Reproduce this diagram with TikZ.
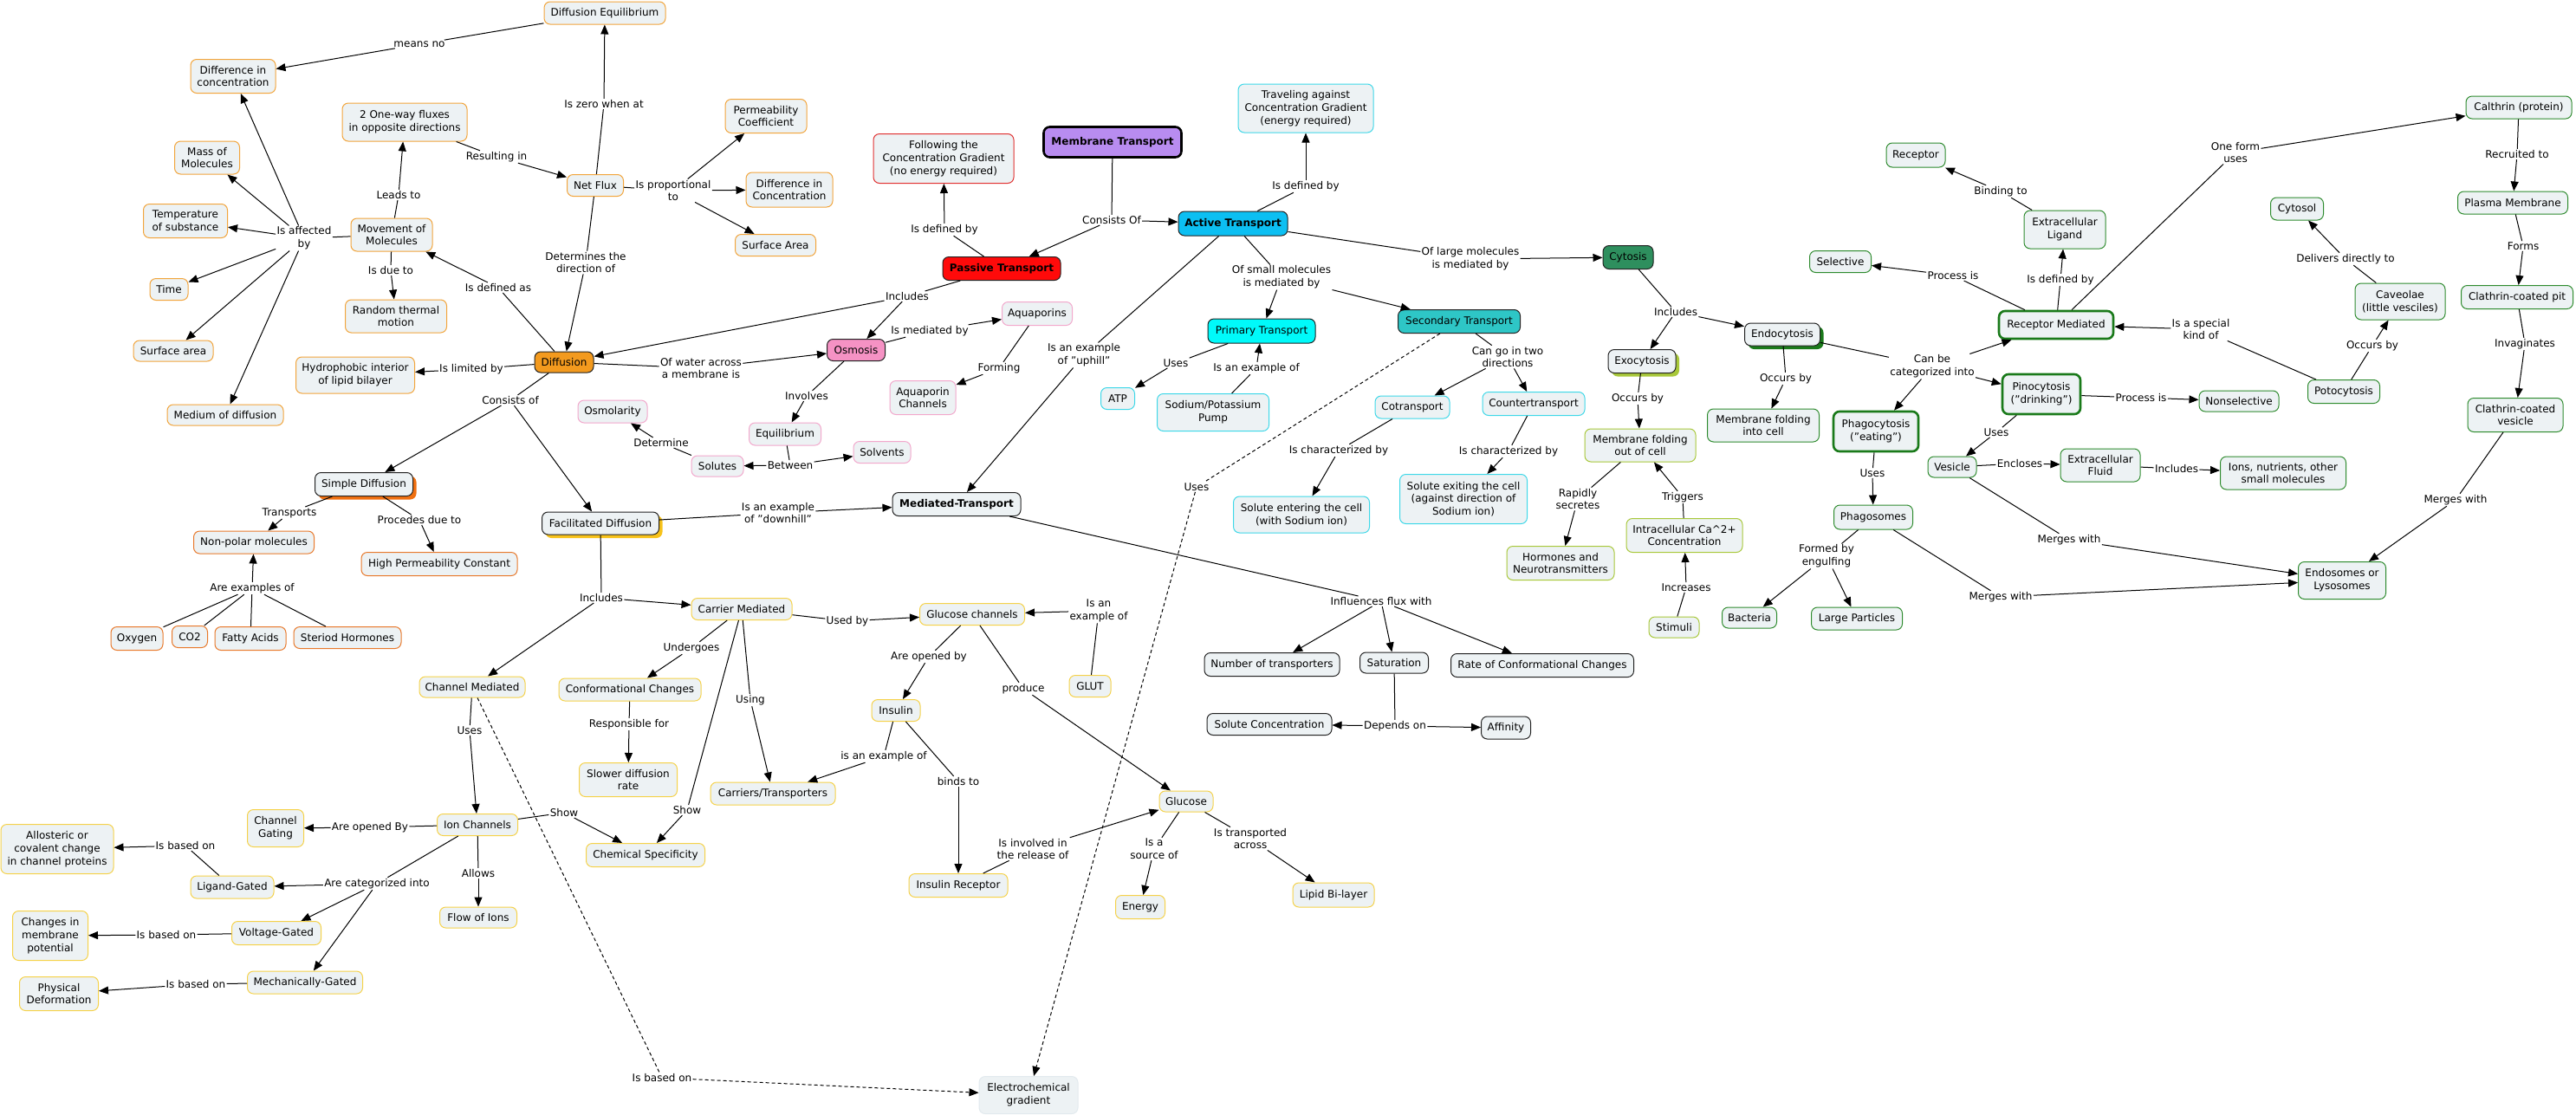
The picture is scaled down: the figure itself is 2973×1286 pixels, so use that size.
\documentclass[tikz,border=0pt]{standalone}
\usepackage{fontspec}
\setmainfont{DejaVu Sans}
\usetikzlibrary{arrows.meta,shadows}
\newcommand\fs{\fontsize{12}{14.7}\selectfont}
\definecolor{nf}{HTML}{EDF2F4}
\definecolor{orB}{HTML}{F2A53C}
\definecolor{or2B}{HTML}{E8792C}
\definecolor{yeB}{HTML}{F5D24A}
\definecolor{piB}{HTML}{F2A8CC}
\definecolor{cyB}{HTML}{3ED8E8}
\definecolor{grB}{HTML}{2E8B2E}
\definecolor{dgB}{HTML}{1A7A1A}
\definecolor{ygB}{HTML}{A8C83A}
\definecolor{rdB}{HTML}{E03030}
\definecolor{dkB}{HTML}{222222}
\definecolor{orF}{HTML}{F39A1E}
\definecolor{puF}{HTML}{B88CF0}
\definecolor{reF}{HTML}{FF0A0A}
\definecolor{blF}{HTML}{0CBFF2}
\definecolor{piF}{HTML}{F592C4}
\definecolor{cyF}{HTML}{00FAFA}
\definecolor{tqF}{HTML}{2EC6C6}
\definecolor{sgF}{HTML}{2E8F5E}
\definecolor{goS}{HTML}{F7C21A}
\definecolor{orS}{HTML}{F07010}
\definecolor{ecB}{HTML}{E2EAEE}
\tikzset{
  every node/.style={font=\fs, text=black},
  bx/.style={draw=#1, rounded corners=7pt, fill=nf, align=center, inner xsep=3pt, inner ysep=2pt, line width=1pt},
  sz/.style 2 args={minimum width=#1pt, minimum height=#2pt},
  tg/.style={bx=dgB, line width=2.6pt},
  lab/.style={align=center, inner sep=1.2pt},
  ln/.style={line width=1pt, draw=black},
  arr/.style={line width=1pt, draw=black, -{Triangle[length=11pt,width=9pt]}},
  dln/.style={ln, dash pattern=on 4pt off 3pt},
  darr/.style={arr, dash pattern=on 4pt off 3pt},
  shd/.style={drop shadow={shadow xshift=4pt, shadow yshift=-4pt, fill=#1, opacity=1}},
}
\begin{document}
\begin{tikzpicture}[x=1pt,y=-1pt]
\fill[white] (0,0) rectangle (2973,1286);
\useasboundingbox (0,0) rectangle (2973,1286);

% ---------- orange group ----------
\node[bx=orB, sz={140}{26}] (de) at (698,15) {Diffusion Equilibrium};
\node[bx=orB, sz={98}{39}] (diffconc) at (269,88) {Difference in\\concentration};
\node[bx=orB, sz={144}{44}] (fluxes) at (467,141) {2 One-way fluxes\\in opposite directions};
\node[bx=orB, sz={75}{38}] (mass) at (239,182) {Mass of\\Molecules};
\node[bx=orB, sz={97}{39}] (temp) at (214,255) {Temperature\\of substance};
\node[bx=orB, sz={65}{25}] (netflux) at (687,214) {Net Flux};
\node[bx=orB, sz={94}{38}] (movement) at (452,271) {Movement of\\Molecules};
\node[bx=orB, sz={44}{25}] (time) at (195,334) {Time};
\node[bx=orB, sz={117}{38}] (random) at (457,365) {Random thermal\\motion};
\node[bx=orB, sz={92}{24}] (surfarea) at (200,405) {Surface area};
\node[bx=orB, sz={137}{42}] (hydro) at (410,433) {Hydrophobic interior\\of lipid bilayer};
\node[bx=orB, sz={134}{24}] (medium) at (260,479) {Medium of diffusion};
\node[bx=orB, sz={94}{39}] (perm) at (884,134) {Permeability\\Coefficient};
\node[bx=orB, sz={100}{40}] (diffconc2) at (911,219) {Difference in\\Concentration};
\node[bx=orB, sz={93}{25}] (surfarea2) at (895,283) {Surface Area};
\node[bx=dkB, fill=orF, sz={68}{24}] (diffusion) at (651,418) {Diffusion};

% ---------- simple diffusion group ----------
\node[bx=dkB, shd=orS, sz={113}{27}] (simple) at (420,559) {Simple Diffusion};
\node[bx=dkB, shd=goS, sz={135}{26}] (facil) at (693,604) {Facilitated Diffusion};
\node[bx=or2B, sz={139}{26}] (nonpolar) at (293,626) {Non-polar molecules};
\node[bx=or2B, sz={180}{27}] (hpc) at (507,651) {High Permeability Constant};
\node[bx=or2B, sz={60}{27}] (oxygen) at (158,737) {Oxygen};
\node[bx=or2B, sz={41}{25}] (co2) at (219,735) {CO2};
\node[bx=or2B, sz={82}{27}] (fatty) at (289,737) {Fatty Acids};
\node[bx=or2B, sz={124}{25}] (steriod) at (401,736) {Steriod Hormones};

% ---------- yellow group ----------
\node[bx=yeB, sz={122}{24}] (channel) at (545,793) {Channel Mediated};
\node[bx=yeB, sz={116}{25}] (carrier) at (856,703) {Carrier Mediated};
\node[bx=yeB, sz={121}{25}] (glucch) at (1122,709) {Glucose channels};
\node[bx=yeB, sz={164}{26}] (conform) at (727,796) {Conformational Changes};
\node[bx=yeB, sz={48}{25}] (glut) at (1258,792) {GLUT};
\node[bx=yeB, sz={56}{25}] (insulin) at (1034,820) {Insulin};
\node[bx=yeB, sz={113}{39}] (slower) at (725,900) {Slower diffusion\\rate};
\node[bx=yeB, sz={65}{43}] (gating) at (318,956) {Channel\\Gating};
\node[bx=yeB, sz={93}{25}] (ionch) at (551,952) {Ion Channels};
\node[bx=yeB, sz={130}{57}] (allost) at (66,980) {Allosteric or\\covalent change\\in channel proteins};
\node[bx=yeB, sz={137}{27}] (chemspec) at (745,987) {Chemical Specificity};
\node[bx=yeB, sz={96}{26}] (ligand) at (268,1024) {Ligand-Gated};
\node[bx=yeB, sz={89}{24}] (flow) at (552,1059) {Flow of Ions};
\node[bx=yeB, sz={87}{57}] (changes) at (58,1080) {Changes in\\membrane\\potential};
\node[bx=yeB, sz={103}{27}] (voltage) at (319,1077) {Voltage-Gated};
\node[bx=yeB, sz={91}{39}] (physical) at (68,1147) {Physical\\Deformation};
\node[bx=yeB, sz={133}{26}] (mech) at (352,1134) {Mechanically-Gated};
\node[bx=yeB, sz={144}{26}] (carriers) at (892,916) {Carriers/Transporters};
\node[bx=yeB, sz={114}{27}] (insrec) at (1106,1022) {Insulin Receptor};
\node[bx=yeB, sz={62}{24}] (glucose) at (1369,925) {Glucose};
\node[bx=yeB, sz={57}{27}] (energy) at (1316,1047) {Energy};
\node[bx=yeB, sz={94}{28}] (lipid) at (1539,1033) {Lipid Bi-layer};
\node[bx=ecB, sz={114}{43}] (electro) at (1187,1264) {Electrochemical\\gradient};

% ---------- pink group ----------
\node[bx=dkB, fill=piF, sz={67}{25}] (osmosis) at (988,404) {Osmosis};
\node[bx=piB, sz={80}{26}] (osmolarity) at (707,475) {Osmolarity};
\node[bx=piB, sz={81}{27}] (aquaporins) at (1197,362) {Aquaporins};
\node[bx=piB, sz={76}{39}] (aquach) at (1065,459) {Aquaporin\\Channels};
\node[bx=piB, sz={83}{26}] (equil) at (906,501) {Equilibrium};
\node[bx=piB, sz={60}{24}] (solutes) at (828,538) {Solutes};
\node[bx=piB, sz={66}{25}] (solvents) at (1018,522) {Solvents};

% ---------- top ----------
\node[bx=rdB, sz={162}{57}] (following) at (1089,183) {Following the\\Concentration Gradient\\(no energy required)};
\node[bx=black, fill=puF, line width=2.6pt, sz={159}{35}, font=\fs\bfseries] (mt) at (1284,164) {Membrane Transport};
\node[bx=dkB, fill=reF, sz={136}{27}, font=\fs\bfseries] (passive) at (1156,310) {Passive Transport};
\node[bx=dkB, fill=blF, sz={126}{28}, font=\fs\bfseries] (active) at (1423,258) {Active Transport};

% ---------- cyan group ----------
\node[bx=cyB, sz={156}{56}] (traveling) at (1507,125) {Traveling against\\Concentration Gradient\\(energy required)};
\node[bx=dkB, fill=cyF, sz={124}{28}] (primary) at (1456,382) {Primary Transport};
\node[bx=dkB, fill=tqF, sz={141}{27}] (secondary) at (1684,371) {Secondary Transport};
\node[bx=cyB, sz={39}{25}] (atp) at (1290,460) {ATP};
\node[bx=cyB, sz={129}{43}] (pump) at (1400,476) {Sodium/Potassium\\Pump};
\node[bx=cyB, sz={157}{42}] (solin) at (1502,594) {Solute entering the cell\\(with Sodium ion)};
\node[bx=cyB, sz={86}{26}] (cotrans) at (1630,470) {Cotransport};
\node[bx=cyB, sz={118}{27}] (countertr) at (1770,466) {Countertransport};
\node[bx=cyB, sz={147}{57}] (solout) at (1689,576) {Solute exiting the cell\\(against direction of\\Sodium ion)};

% ---------- mediated transport group ----------
\node[bx=dkB, sz={148}{27}, font=\fs\bfseries] (mediated) at (1104,582) {Mediated-Transport};
\node[bx=dkB, sz={156}{27}] (numtrans) at (1468,767) {Number of transporters};
\node[bx=dkB, sz={79}{24}] (saturation) at (1609,765) {Saturation};
\node[bx=dkB, sz={211}{27}] (rate) at (1780,768) {Rate of Conformational Changes};
\node[bx=dkB, sz={144}{25}] (solconc) at (1465,836) {Solute Concentration};
\node[bx=dkB, sz={57}{26}] (affinity) at (1738,840) {Affinity};

% ---------- cytosis ----------
\node[bx=dkB, fill=sgF, sz={58}{27}] (cytosis) at (1879,297) {Cytosis};
\node[bx=dkB, shd=ygB, sz={78}{27}] (exocytosis) at (1895,417) {Exocytosis};
\node[bx=dkB, shd=dgB, sz={87}{26}] (endocytosis) at (2057,386) {Endocytosis};
\node[bx=ygB, sz={128}{38}] (mfo) at (1893,514) {Membrane folding\\out of cell};
\node[bx=ygB, sz={124}{39}] (hormones) at (1801,650) {Hormones and\\Neurotransmitters};
\node[bx=ygB, sz={134}{39}] (calcium) at (1944,618) {Intracellular Ca\textasciicircum 2+\\Concentration};
\node[bx=ygB, sz={58}{24}] (stimuli) at (1932,724) {Stimuli};

\node[bx=grB, sz={129}{38}] (mfi) at (2035,491) {Membrane folding\\into cell};
\node[bx=grB, sz={71}{25}] (selective) at (2124,302) {Selective};
\node[bx=grB, sz={68}{28}] (receptor) at (2211,179) {Receptor};
\node[bx=grB, sz={94}{44}] (extlig) at (2383,265) {Extracellular\\Ligand};
\node[bx=grB, sz={122}{26}] (calthrin) at (2907,124) {Calthrin (protein)};
\node[bx=grB, sz={61}{26}] (cytosol) at (2651,241) {Cytosol};
\node[bx=grB, sz={127}{26}] (plasma) at (2900,234) {Plasma Membrane};
\node[bx=grB, sz={104}{42}] (caveolae) at (2770,348) {Caveolae\\(little vesciles)};
\node[bx=grB, sz={129}{27}] (ccpit) at (2905,343) {Clathrin-coated pit};
\node[bx=grB, sz={83}{27}] (potocyt) at (2705,452) {Potocytosis};
\node[bx=grB, sz={92}{24}] (nonsel) at (2584,463) {Nonselective};
\node[bx=grB, sz={110}{39}] (ccves) at (2903,479) {Clathrin-coated\\vesicle};
\node[bx=grB, sz={56}{24}] (vesicle) at (2253,539) {Vesicle};
\node[bx=grB, sz={92}{38}] (extfluid) at (2424,537) {Extracellular\\Fluid};
\node[bx=grB, sz={145}{38}] (ions) at (2635,546) {Ions, nutrients, other\\small molecules};
\node[bx=grB, sz={101}{43}] (endos) at (2703,670) {Endosomes or\\Lysosomes};
\node[bx=grB, sz={91}{28}] (phagosomes) at (2162,597) {Phagosomes};
\node[bx=grB, sz={63}{24}] (bacteria) at (2019,713) {Bacteria};
\node[bx=grB, sz={105}{26}] (large) at (2143,714) {Large Particles};
\node[tg, sz={132}{32}] (recmed) at (2373,375) {Receptor Mediated};
\node[tg, sz={90}{46}] (pino) at (2356,455) {Pinocytosis\\("drinking")};
\node[tg, sz={98}{46}] (phago) at (2165,498) {Phagocytosis\\("eating")};

% ---------- labels ----------
\node[lab] (l1) at (484,51) {means no};
\node[lab] (l2) at (697,120) {Is zero when at};
\node[lab] (l3) at (573,181) {Resulting in};
\node[lab] (l4) at (460,225) {Leads to};
\node[lab] (l5) at (351,275) {Is affected\\by};
\node[lab] (l6) at (451,312) {Is due to};
\node[lab] (l7) at (575,332) {Is defined as};
\node[lab] (l8) at (676,303) {Determines the\\direction of};
\node[lab] (l9) at (544,426) {Is limited by};
\node[lab] (l10) at (777,220) {Is proportional\\to};
\node[lab] (l11) at (1090,265) {Is defined by};
\node[lab] (l12) at (1283,254) {Consists Of};
\node[lab] (l13) at (1507,215) {Is defined by};
\node[lab] (l14) at (1047,342) {Includes};
\node[lab] (l15) at (1073,382) {Is mediated by};
\node[lab] (l16) at (1153,425) {Forming};
\node[lab] (l17) at (1251,410) {Is an example\\of "uphill"};
\node[lab] (l18) at (1479,320) {Of small molecules\\is mediated by};
\node[lab] (l19) at (1357,419) {Uses};
\node[lab] (l20) at (1450,425) {Is an example of};
\node[lab] (l21) at (809,425) {Of water across\\a membrane is};
\node[lab] (l22) at (1697,299) {Of large molecules\\is mediated by};
\node[lab] (l23) at (1934,360) {Includes};
\node[lab] (l24) at (2230,423) {Can be\\categorized into};
\node[lab] (l25) at (2254,318) {Process is};
\node[lab] (l26) at (2309,221) {Binding to};
\node[lab] (l27) at (2378,323) {Is defined by};
\node[lab] (l28) at (2580,176) {One form\\uses};
\node[lab] (l29) at (2905,178) {Recruited to};
\node[lab] (l30) at (2707,299) {Delivers directly to};
\node[lab] (l31) at (2912,284) {Forms};
\node[lab] (l32) at (2540,380) {Is a special\\kind of};
\node[lab] (l33) at (2738,399) {Occurs by};
\node[lab] (l34) at (2914,397) {Invaginates};
\node[lab] (l35) at (2471,459) {Process is};
\node[lab] (l36) at (2304,499) {Uses};
\node[lab] (l37) at (2331,535) {Encloses};
\node[lab] (l38) at (2512,541) {Includes};
\node[lab] (l39) at (2388,623) {Merges with};
\node[lab] (l40) at (2309,689) {Merges with};
\node[lab] (l41) at (2834,577) {Merges with};
\node[lab] (l42) at (589,462) {Consists of};
\node[lab] (l43) at (334,592) {Transports};
\node[lab] (l44) at (484,600) {Procedes due to};
\node[lab] (l45) at (291,679) {Are examples of};
\node[lab] (l46) at (694,690) {Includes};
\node[lab] (l47) at (763,511) {Determine};
\node[lab] (l48) at (542,843) {Uses};
\node[lab] (l49) at (931,457) {Involves};
\node[lab] (l50) at (912,537) {Between};
\node[lab] (l51) at (898,592) {Is an example\\of "downhill"};
\node[lab] (l52) at (1381,562) {Uses};
\node[lab] (l53) at (1594,694) {Influences flux with};
\node[lab] (l54) at (978,717) {Used by};
\node[lab] (l55) at (1268,705) {Is an\\example of};
\node[lab] (l56) at (798,748) {Undergoes};
\node[lab] (l57) at (1072,758) {Are opened by};
\node[lab] (l58) at (1181,795) {produce};
\node[lab] (l59) at (866,808) {Using};
\node[lab] (l60) at (793,935) {Show};
\node[lab] (l61) at (726,836) {Responsible for};
\node[lab] (l62) at (1740,412) {Can go in two\\directions};
\node[lab] (l63) at (1545,520) {Is characterized by};
\node[lab] (l64) at (1741,521) {Is characterized by};
\node[lab] (l65) at (1890,460) {Occurs by};
\node[lab] (l66) at (2061,437) {Occurs by};
\node[lab] (l67) at (1821,576) {Rapidly\\secretes};
\node[lab] (l68) at (1942,574) {Triggers};
\node[lab] (l69) at (1946,678) {Increases};
\node[lab] (l70) at (2161,546) {Uses};
\node[lab] (l71) at (2108,642) {Formed by\\engulfing};
\node[lab] (l72) at (1610,838) {Depends on};
\node[lab] (l73) at (427,955) {Are opened By};
\node[lab] (l74) at (214,976) {Is based on};
\node[lab] (l75) at (435,1020) {Are categorized into};
\node[lab] (l76) at (552,1008) {Allows};
\node[lab] (l77) at (651,938) {Show};
\node[lab] (l78) at (192,1079) {Is based on};
\node[lab] (l79) at (226,1136) {Is based on};
\node[lab] (l80) at (764,1244) {Is based on};
\node[lab] (l81) at (1020,873) {is an example of};
\node[lab] (l82) at (1106,902) {binds to};
\node[lab] (l83) at (1192,980) {Is involved in\\the release of};
\node[lab] (l84) at (1332,980) {Is a\\source of};
\node[lab] (l85) at (1443,968) {Is transported\\across};

% ---------- connectors ----------
\draw[ln] (de) -- (l1); \draw[arr] (l1) -- (diffconc);
\draw[ln] (netflux) -- (l2); \draw[arr] (l2) -- (de);
\draw[ln] (fluxes) -- (l3); \draw[arr] (l3) -- (netflux);
\draw[ln] (movement) -- (l4); \draw[arr] (l4) -- (fluxes);
\draw[ln] (movement) -- (l5);
\draw[arr] (l5) -- (diffconc); \draw[arr] (l5) -- (mass); \draw[arr] (l5) -- (temp);
\draw[arr] (l5) -- (time); \draw[arr] (l5) -- (surfarea); \draw[arr] (l5) -- (medium);
\draw[ln] (movement) -- (l6); \draw[arr] (l6) -- (random);
\draw[ln] (diffusion) -- (l7); \draw[arr] (l7) -- (movement);
\draw[ln] (netflux) -- (l8); \draw[arr] (l8) -- (diffusion);
\draw[ln] (diffusion) -- (l9); \draw[arr] (l9) -- (hydro);
\draw[ln] (netflux) -- (l10);
\draw[arr] (l10) -- (perm); \draw[arr] (l10) -- (diffconc2); \draw[arr] (l10) -- (surfarea2);
\draw[ln] (passive) -- (l11); \draw[arr] (l11) -- (following);
\draw[ln] (mt) -- (l12); \draw[arr] (l12) -- (active); \draw[arr] (l12) -- (passive);
\draw[ln] (active) -- (l13); \draw[arr] (l13) -- (traveling);
\draw[ln] (passive) -- (l14); \draw[arr] (l14) -- (diffusion); \draw[arr] (l14) -- (osmosis);
\draw[ln] (osmosis) -- (l15); \draw[arr] (l15) -- (aquaporins);
\draw[ln] (aquaporins) -- (l16); \draw[arr] (l16) -- (aquach);
\draw[ln] (active) -- (l17); \draw[arr] (l17) -- (mediated);
\draw[ln] (active) -- (l18); \draw[arr] (l18) -- (primary); \draw[arr] (l18) -- (secondary);
\draw[ln] (primary) -- (l19); \draw[arr] (l19) -- (atp);
\draw[ln] (pump) -- (l20); \draw[arr] (l20) -- (primary);
\draw[ln] (diffusion) -- (l21); \draw[arr] (l21) -- (osmosis);
\draw[ln] (active) -- (l22); \draw[arr] (l22) -- (cytosis);
\draw[ln] (cytosis) -- (l23); \draw[arr] (l23) -- (exocytosis); \draw[arr] (l23) -- (endocytosis);
\draw[ln] (endocytosis) -- (l24);
\draw[arr] (l24) -- (recmed); \draw[arr] (l24) -- (pino); \draw[arr] (l24) -- (phago);
\draw[ln] (recmed) -- (l25); \draw[arr] (l25) -- (selective);
\draw[ln] (extlig) -- (l26); \draw[arr] (l26) -- (receptor);
\draw[ln] (recmed) -- (l27); \draw[arr] (l27) -- (extlig);
\draw[ln] (recmed) -- (l28); \draw[arr] (l28) -- (calthrin);
\draw[ln] (calthrin) -- (l29); \draw[arr] (l29) -- (plasma);
\draw[ln] (caveolae) -- (l30); \draw[arr] (l30) -- (cytosol);
\draw[ln] (plasma) -- (l31); \draw[arr] (l31) -- (ccpit);
\draw[ln] (potocyt) -- (l32); \draw[arr] (l32) -- (recmed);
\draw[ln] (potocyt) -- (l33); \draw[arr] (l33) -- (caveolae);
\draw[ln] (ccpit) -- (l34); \draw[arr] (l34) -- (ccves);
\draw[ln] (pino) -- (l35); \draw[arr] (l35) -- (nonsel);
\draw[ln] (pino) -- (l36); \draw[arr] (l36) -- (vesicle);
\draw[ln] (vesicle) -- (l37); \draw[arr] (l37) -- (extfluid);
\draw[ln] (extfluid) -- (l38); \draw[arr] (l38) -- (ions);
\draw[ln] (vesicle) -- (l39); \draw[arr] (l39) -- (endos);
\draw[ln] (phagosomes) -- (l40); \draw[arr] (l40) -- (endos);
\draw[ln] (ccves) -- (l41); \draw[arr] (l41) -- (endos);
\draw[ln] (diffusion) -- (l42); \draw[arr] (l42) -- (simple); \draw[arr] (l42) -- (facil);
\draw[ln] (simple) -- (l43); \draw[arr] (l43) -- (nonpolar);
\draw[ln] (simple) -- (l44); \draw[arr] (l44) -- (hpc);
\draw[ln] (oxygen) -- (l45); \draw[ln] (co2) -- (l45); \draw[ln] (fatty) -- (l45); \draw[ln] (steriod) -- (l45);
\draw[arr] (l45) -- (nonpolar);
\draw[ln] (facil) -- (l46); \draw[arr] (l46) -- (channel); \draw[arr] (l46) -- (carrier);
\draw[ln] (solutes) -- (l47); \draw[arr] (l47) -- (osmolarity);
\draw[ln] (channel) -- (l48); \draw[arr] (l48) -- (ionch);
\draw[ln] (osmosis) -- (l49); \draw[arr] (l49) -- (equil);
\draw[ln] (equil) -- (l50); \draw[arr] (l50) -- (solutes); \draw[arr] (l50) -- (solvents);
\draw[ln] (facil) -- (l51); \draw[arr] (l51) -- (mediated);
\draw[dln] (secondary) -- (l52); \draw[darr] (l52) -- (electro);
\draw[ln] (mediated) -- (l53);
\draw[arr] (l53) -- (numtrans); \draw[arr] (l53) -- (saturation); \draw[arr] (l53) -- (rate);
\draw[ln] (carrier) -- (l54); \draw[arr] (l54) -- (glucch);
\draw[ln] (glut) -- (l55); \draw[arr] (l55) -- (glucch);
\draw[ln] (carrier) -- (l56); \draw[arr] (l56) -- (conform);
\draw[ln] (glucch) -- (l57); \draw[arr] (l57) -- (insulin);
\draw[ln] (glucch) -- (l58); \draw[arr] (l58) -- (glucose);
\draw[ln] (carrier) -- (l59); \draw[arr] (l59) -- (carriers);
\draw[ln] (carrier) -- (l60); \draw[arr] (l60) -- (chemspec);
\draw[ln] (conform) -- (l61); \draw[arr] (l61) -- (slower);
\draw[ln] (secondary) -- (l62); \draw[arr] (l62) -- (cotrans); \draw[arr] (l62) -- (countertr);
\draw[ln] (cotrans) -- (l63); \draw[arr] (l63) -- (solin);
\draw[ln] (countertr) -- (l64); \draw[arr] (l64) -- (solout);
\draw[ln] (exocytosis) -- (l65); \draw[arr] (l65) -- (mfo);
\draw[ln] (endocytosis) -- (l66); \draw[arr] (l66) -- (mfi);
\draw[ln] (mfo) -- (l67); \draw[arr] (l67) -- (hormones);
\draw[ln] (calcium) -- (l68); \draw[arr] (l68) -- (mfo);
\draw[ln] (stimuli) -- (l69); \draw[arr] (l69) -- (calcium);
\draw[ln] (phago) -- (l70); \draw[arr] (l70) -- (phagosomes);
\draw[ln] (phagosomes) -- (l71); \draw[arr] (l71) -- (bacteria); \draw[arr] (l71) -- (large);
\draw[ln] (saturation) -- (l72); \draw[arr] (l72) -- (solconc); \draw[arr] (l72) -- (affinity);
\draw[ln] (ionch) -- (l73); \draw[arr] (l73) -- (gating);
\draw[ln] (ligand) -- (l74); \draw[arr] (l74) -- (allost);
\draw[ln] (ionch) -- (l75);
\draw[arr] (l75) -- (ligand); \draw[arr] (l75) -- (voltage); \draw[arr] (l75) -- (mech);
\draw[ln] (ionch) -- (l76); \draw[arr] (l76) -- (flow);
\draw[ln] (ionch) -- (l77); \draw[arr] (l77) -- (chemspec);
\draw[ln] (voltage) -- (l78); \draw[arr] (l78) -- (changes);
\draw[ln] (mech) -- (l79); \draw[arr] (l79) -- (physical);
\draw[dln] (channel) -- (l80); \draw[darr] (l80) -- (electro);
\draw[ln] (insulin) -- (l81); \draw[arr] (l81) -- (carriers);
\draw[ln] (insulin) -- (l82); \draw[arr] (l82) -- (insrec);
\draw[ln] (insrec) -- (l83); \draw[arr] (l83) -- (glucose);
\draw[ln] (glucose) -- (l84); \draw[arr] (l84) -- (energy);
\draw[ln] (glucose) -- (l85); \draw[arr] (l85) -- (lipid);
\end{tikzpicture}
\end{document}
